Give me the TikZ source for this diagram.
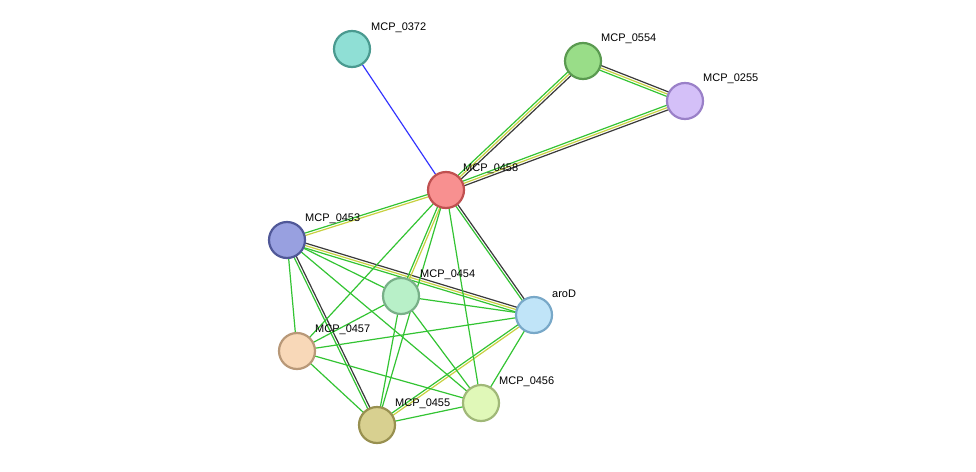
\documentclass[tikz,border=0pt]{standalone}
\usepackage{fontspec}
\setmainfont{Liberation Sans}
\usetikzlibrary{calc}
\definecolor{eg}{HTML}{33C433}
\definecolor{ey}{HTML}{C8D040}
\definecolor{ed}{HTML}{3A3A3A}
\definecolor{eb}{HTML}{3333FF}
\newcommand\eline[4]{\draw[#3] ($(#1)!#4pt!90:(#2)$) -- ($(#2)!#4pt!-90:(#1)$);}
\begin{document}
\begin{tikzpicture}[x=1pt,y=-1pt,
  prot/.style={circle,draw,line width=2.2pt,minimum size=36pt,inner sep=0pt},
  lab/.style={anchor=west,font=\fontsize{11}{13}\selectfont,inner sep=0pt},
  e/.style={line width=1.2pt}]
\fill[white] (0,0) rectangle (976,471);
\useasboundingbox (0,0) rectangle (976,471);
\coordinate (a372) at (352,49);
\coordinate (a554) at (583,61);
\coordinate (a255) at (685,101);
\coordinate (a458) at (446,190);
\coordinate (a453) at (287,240);
\coordinate (a454) at (401,296);
\coordinate (aaro) at (534,315);
\coordinate (a457) at (297,351);
\coordinate (a456) at (481,403);
\coordinate (a455) at (377,425);
% edges
\eline{a372}{a458}{e,eb}{0}
\foreach \p/\q in {a554/a255,a554/a458,a255/a458,a453/aaro}{
  \eline{\p}{\q}{e,eg}{-2.4}\eline{\p}{\q}{e,ey}{0}\eline{\p}{\q}{e,ed}{2.4}}
\eline{a458}{a453}{e,eg}{-1.2}\eline{a458}{a453}{e,ey}{1.2}
\eline{a458}{a454}{e,eg}{-1.2}\eline{a458}{a454}{e,ey}{1.2}
\eline{a458}{aaro}{e,eg}{-1.2}\eline{a458}{aaro}{e,ed}{1.2}
\eline{a453}{a455}{e,eg}{-1.2}\eline{a453}{a455}{e,ed}{1.2}
\eline{aaro}{a455}{e,eg}{-1.2}\eline{aaro}{a455}{e,ey}{1.2}
\foreach \p/\q in {a458/a457,a458/a455,a458/a456,a453/a454,a453/a457,a453/a456,
  a454/aaro,a454/a457,a454/a455,a454/a456,aaro/a457,aaro/a456,a457/a455,a457/a456,a455/a456}{
  \eline{\p}{\q}{e,eg}{0}}
% nodes
\node[prot,fill={rgb,255:red,143;green,223;blue,213},draw={rgb,255:red,74;green,154;blue,144}] (n372) at (a372) {};
\node[prot,fill={rgb,255:red,153;green,221;blue,136},draw={rgb,255:red,90;green,154;blue,80}] (n554) at (a554) {};
\node[prot,fill={rgb,255:red,212;green,192;blue,248},draw={rgb,255:red,154;green,128;blue,200}] (n255) at (a255) {};
\node[prot,fill={rgb,255:red,248;green,144;blue,144},draw={rgb,255:red,192;green,80;blue,80}] (n458) at (a458) {};
\node[prot,fill={rgb,255:red,152;green,160;blue,224},draw={rgb,255:red,80;green,88;blue,152}] (n453) at (a453) {};
\node[prot,fill={rgb,255:red,184;green,240;blue,200},draw={rgb,255:red,120;green,176;blue,136}] (n454) at (a454) {};
\node[prot,fill={rgb,255:red,192;green,228;blue,248},draw={rgb,255:red,120;green,168;blue,200}] (naro) at (aaro) {};
\node[prot,fill={rgb,255:red,248;green,216;blue,184},draw={rgb,255:red,184;green,152;blue,120}] (n457) at (a457) {};
\node[prot,fill={rgb,255:red,224;green,248;blue,184},draw={rgb,255:red,160;green,184;blue,120}] (n456) at (a456) {};
\node[prot,fill={rgb,255:red,216;green,208;blue,144},draw={rgb,255:red,152;green,144;blue,80}] (n455) at (a455) {};
% labels
\node[lab] (l372) at (371,28) {MCP\_0372};
\node[lab] (l554) at (601,39) {MCP\_0554};
\node[lab] (l255) at (703,79) {MCP\_0255};
\node[lab] (l458) at (463,169) {MCP\_0458};
\node[lab] (l453) at (305,219) {MCP\_0453};
\node[lab] (l454) at (420,275) {MCP\_0454};
\node[lab] (laro) at (552,294) {aroD};
\node[lab] (l457) at (315,330) {MCP\_0457};
\node[lab] (l456) at (499,382) {MCP\_0456};
\node[lab] (l455) at (395,404) {MCP\_0455};
\end{tikzpicture}
\end{document}
